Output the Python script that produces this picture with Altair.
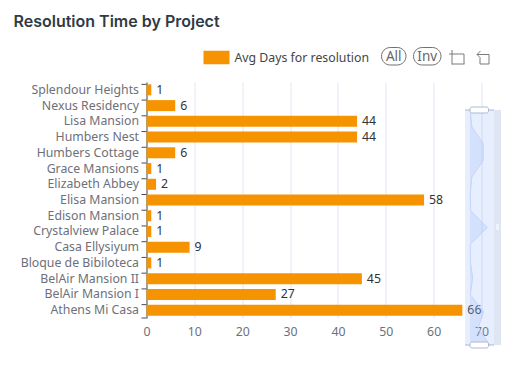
import altair as alt
import pandas as pd

projects = ["Splendour Heights", "Nexus Residency", "Lisa Mansion", "Humbers Nest",
            "Humbers Cottage", "Grace Mansions", "Elizabeth Abbey", "Elisa Mansion",
            "Edison Mansion", "Crystalview Palace", "Casa Ellysiyum", "Bloque de Bibiloteca",
            "BelAir Mansion II", "BelAir Mansion I", "Athens Mi Casa"]
avg_days = [1, 6, 44, 44, 6, 1, 2, 58, 1, 1, 9, 1, 45, 27, 66]
series_name = "Avg Days for resolution"
x_ticks = [0, 10, 20, 30, 40, 50, 60, 70]
chart_title = "Resolution Time by Project"

df = pd.DataFrame({"project": projects, "days": avg_days, "idx": range(len(projects)),
                   "series": series_name})

FONT = "Noto Sans"
FS = 12.3
W, H = 335, 236
ORANGE = "#f59300"
GREY = "#6e7079"

y_scale = alt.Scale(domain=projects, paddingInner=0.3, paddingOuter=0.15)
x_enc = alt.X("days:Q", scale=alt.Scale(domain=[0, 70], nice=False),
              axis=alt.Axis(title=None, values=x_ticks, grid=True, gridColor="#e0e6f1",
                            domain=False, ticks=False, labelColor=GREY, labelFont=FONT,
                            labelFontSize=FS, labelPadding=7, labelFlush=False))
y_enc = alt.Y("project:N", scale=y_scale, sort=projects,
              axis=alt.Axis(title=None, labelColor=GREY, labelFont=FONT, labelFontSize=FS,
                            ticks=False, domain=True, domainColor="#4a4d55", grid=False,
                            labelPadding=8))

bars = alt.Chart(df).mark_bar(size=11).encode(
    x=x_enc, y=y_enc,
    color=alt.Color("series:N", scale=alt.Scale(domain=[series_name], range=[ORANGE]),
                    legend=alt.Legend(title=None, orient="none", legendX=57, legendY=-37.5,
                                      symbolType="M-1,-0.52H1V0.52H-1Z", symbolSize=676,
                                      symbolStrokeWidth=0, symbolOpacity=1,
                                      labelFont=FONT, labelFontSize=FS, labelColor="#444444",
                                      labelOffset=5)),
)
labels = alt.Chart(df).mark_text(align="left", baseline="middle", dx=5, font=FONT,
                                 fontSize=FS, color="#333333").encode(
    x=alt.X("days:Q"), y=alt.Y("project:N", sort=projects), text="days:Q")
ticks = alt.Chart(df).mark_rule(color="#4a4d55").encode(
    y=alt.Y("project:N", sort=projects, bandPosition=0), x=alt.value(-5), x2=alt.value(0))
tick_end = alt.Chart(df.head(1)).mark_rule(color="#4a4d55").encode(
    y=alt.value(H), x=alt.value(-5), x2=alt.value(0))
main = alt.layer(bars, labels, ticks, tick_end)


def box(x, x2, y, y2, **kw):
    return alt.Chart(df.head(1)).mark_rect(**kw).encode(
        x=alt.value(x), x2=alt.value(x2), y=alt.value(y), y2=alt.value(y2))


def seg(x, x2, y, y2=None, color="#acb8d1", width=1):
    enc = dict(x=alt.value(x), y=alt.value(y))
    if x2 is not None:
        enc["x2"] = alt.value(x2)
    if y2 is not None:
        enc["y2"] = alt.value(y2)
    return alt.Chart(df.head(1)).mark_rule(color=color, strokeWidth=width).encode(**enc)


band_left, band_right = 318.5, 347.5
spark_y = alt.Y("project:N", sort=projects, axis=None,
                scale=alt.Scale(type="point", domain=projects, range=[28, 263], padding=0))
spark_x = alt.X("days:Q", axis=None,
                scale=alt.Scale(domain=[0, 70], range=[323.5, 344.5], nice=False))
spark_area = alt.Chart(df).mark_area(color="#8fb0f7", opacity=0.22, orient="horizontal").encode(
    x=spark_x, x2=alt.value(band_left), y=spark_y, order="idx:Q")
spark_line = alt.Chart(df).mark_line(color="#c5d4f8", strokeWidth=1, orient="horizontal").encode(
    x=spark_x, y=spark_y, order="idx:Q")

slider = alt.layer(
    box(band_left, band_right, 28, 263, fill="#87afff", fillOpacity=0.2),
    box(band_right, band_right + 7, 28, 263, fill="#d2dbee", fillOpacity=0.7),
    spark_area, spark_line,
    seg(band_left, band_right, 28), seg(band_left, band_right, 263),
    box(323.5, 342, 25, 31, fill="#ffffff", stroke="#acb8d1", cornerRadius=2),
    box(323.5, 342, 260, 266, fill="#ffffff", stroke="#acb8d1", cornerRadius=2),
    seg(band_right + 2, band_right + 5, 143, color="#ffffff"),
    seg(band_right + 2, band_right + 5, 145, color="#ffffff"),
    seg(band_right + 2, band_right + 5, 147, color="#ffffff"),
)


def text_at(text, x, y, **kw):
    return alt.Chart(df.head(1)).mark_text(text=text, baseline="middle", **kw).encode(
        x=alt.value(x), y=alt.value(y))


def pill(x, x2, text):
    return [
        box(x, x2, -34.5, -17, fill="transparent", stroke="#707070", cornerRadius=9),
        text_at(text, (x + x2) / 2, -25.5, font=FONT, fontSize=13.5, color="#666666", align="center"),
    ]


tool = "#7a7a7a"
toolbar = alt.layer(
    *pill(235, 259.5, "All"), *pill(267, 294.5, "Inv"),
    # brush icon
    seg(302.5, 317.5, -28, color=tool), seg(305.5, None, -32, -17.5, color=tool),
    seg(317.5, None, -28, -18, color=tool), seg(305.5, 318, -18, color=tool),
    # clear icon
    seg(330.5, 342.5, -27.5, color=tool), seg(333.5, None, -24.5, -18, color=tool),
    seg(342.5, None, -27.5, -18, color=tool), seg(333.5, 342.5, -18, color=tool),
    seg(330.5, 334, -27.5, -31, color=tool), seg(330.5, 333.5, -27.5, -24.5, color=tool),
    text_at(chart_title, -133, -60, font="Inter", fontSize=16, fontWeight=600,
            color="#2f3a45", align="left"),
)

chart = alt.layer(main, slider, toolbar).resolve_scale(
    x="independent", y="independent", color="independent"
).properties(
    width=W, height=H,
    autosize=alt.AutoSizeParams(type="none"),
    padding={"left": 138.5, "top": 74, "right": 24, "bottom": 40},
    background="#ffffff",
).configure_view(stroke=None)

chart.save("out.html", embed_options={"renderer": "svg", "actions": False})
